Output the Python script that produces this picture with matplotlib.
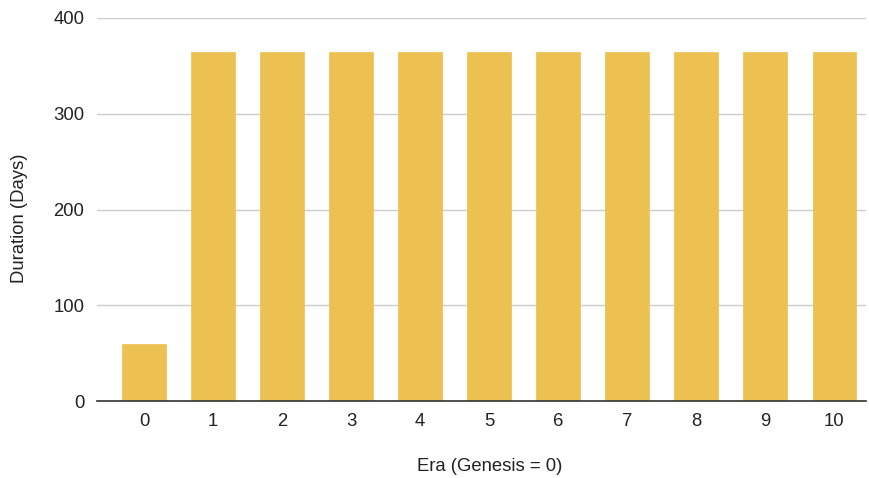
import matplotlib.pyplot as plt

# Era durations in days (era 0 is the genesis era)
eras = [0, 1, 2, 3, 4, 5, 6, 7, 8, 9, 10]
duracao = [60, 365, 365, 365, 365, 365, 365, 365, 365, 365, 365]
y_ticks = [0, 100, 200, 300, 400]

plt.rcParams['font.family'] = ['Liberation Sans', 'DejaVu Sans']

cor = '#ecc151'

fig = plt.figure(figsize=(8.7, 4.78), dpi=100)
ax = fig.add_axes([97 / 870, 1 - 401 / 478, 769 / 870, 383 / 478])

ax.bar(eras, duracao, width=0.63, color=cor, edgecolor=cor,
       linewidth=0.5, joinstyle='round', zorder=3)

ax.set_xlim(-0.68, 10.46)
ax.set_ylim(0, 400)
ax.set_yticks(y_ticks)
ax.set_xticks(eras)
ax.set_xticklabels([str(e) for e in eras])

ax.grid(axis='y', color='#cccccc', linewidth=1, zorder=0)
for lado in ['top', 'right', 'left']:
    ax.spines[lado].set_visible(False)
ax.spines['bottom'].set_color('#333333')
ax.spines['bottom'].set_linewidth(1.2)
ax.spines['bottom'].set_zorder(4)

ax.tick_params(axis='both', length=0, labelsize=13.3, colors='#222222')
ax.tick_params(axis='x', pad=9)
ax.tick_params(axis='y', pad=9)

ax.set_xlabel('Era (Genesis = 0)', fontsize=13.3, color='#222222', labelpad=20)
ax.set_ylabel('Duration (Days)', fontsize=13.3, color='#222222', labelpad=18)
# títulos dos eixos levemente deslocados do centro
ax.xaxis.label.set_x(0.51)
ax.yaxis.label.set_y(0.478)

fig.savefig('out.png', dpi=100)
